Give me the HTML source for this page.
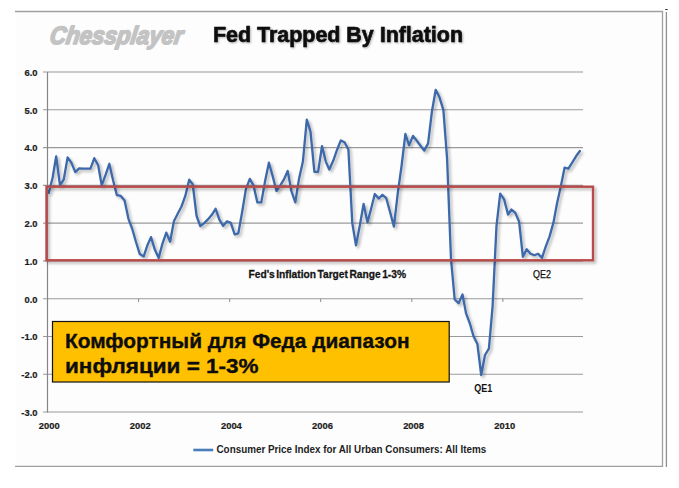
<!DOCTYPE html>
<html><head><meta charset="utf-8">
<style>
html,body{margin:0;padding:0;background:#fff;}
body{width:679px;height:488px;overflow:hidden;position:relative;}
svg{position:absolute;left:0;top:0;}
text{font-family:"Liberation Sans",sans-serif;}
.ax{font-size:9.4px;font-weight:bold;fill:#1a1a1a;stroke:#1a1a1a;stroke-width:0.2px;}
</style></head><body>
<svg width="679" height="488" viewBox="0 0 679 488">
<defs>
<filter id="sh" x="-5%" y="-5%" width="110%" height="120%">
<feGaussianBlur in="SourceAlpha" stdDeviation="1.4"/>
<feOffset dx="1.8" dy="2.2" result="b"/>
<feComponentTransfer><feFuncA type="linear" slope="0.3"/></feComponentTransfer>
<feMerge><feMergeNode/><feMergeNode in="SourceGraphic"/></feMerge>
</filter>
<filter id="tsh" x="-5%" y="-20%" width="110%" height="140%">
<feGaussianBlur in="SourceAlpha" stdDeviation="0.8"/>
<feOffset dx="1" dy="1.2"/>
<feComponentTransfer><feFuncA type="linear" slope="0.3"/></feComponentTransfer>
<feMerge><feMergeNode/><feMergeNode in="SourceGraphic"/></feMerge>
</filter>
</defs>
<rect x="16" y="12" width="646" height="454" fill="#fdfdfd"/>
<!-- frame -->
<line x1="15" y1="11.5" x2="663" y2="11.5" stroke="#a0a0a0" stroke-width="1.3"/>
<line x1="15" y1="466.3" x2="663" y2="466.3" stroke="#a0a0a0" stroke-width="1.3"/>
<line x1="662.5" y1="11" x2="662.5" y2="467" stroke="#a0a0a0" stroke-width="1.3"/>
<line x1="666.4" y1="12" x2="666.4" y2="467" stroke="#909090" stroke-width="1.3"/>
<rect x="665.2" y="9" width="2.5" height="1" fill="#333"/>
<!-- chessplayer -->
<g transform="translate(49,43.6) skewX(-8) scale(1,1.0)"><text x="0" y="0" font-size="25" font-weight="bold" font-style="italic" fill="#c3c3c3" stroke="#c3c3c3" stroke-width="1.7" stroke-linejoin="round" textLength="133" lengthAdjust="spacingAndGlyphs">Chessplayer</text></g>
<text x="213" y="42.2" font-size="21.2" font-weight="bold" fill="#0a0a0a" stroke="#0a0a0a" stroke-width="0.6" filter="url(#tsh)" textLength="250" lengthAdjust="spacingAndGlyphs">Fed Trapped By Inflation</text>
<line x1="43" y1="72.0" x2="583" y2="72.0" stroke="#9a9a9a" stroke-width="1.1"/>
<line x1="43" y1="109.8" x2="583" y2="109.8" stroke="#9a9a9a" stroke-width="1.1"/>
<line x1="43" y1="147.6" x2="583" y2="147.6" stroke="#9a9a9a" stroke-width="1.1"/>
<line x1="43" y1="185.4" x2="583" y2="185.4" stroke="#9a9a9a" stroke-width="1.1"/>
<line x1="43" y1="223.1" x2="583" y2="223.1" stroke="#9a9a9a" stroke-width="1.1"/>
<line x1="43" y1="260.9" x2="583" y2="260.9" stroke="#9a9a9a" stroke-width="1.1"/>
<line x1="43" y1="298.7" x2="583" y2="298.7" stroke="#9a9a9a" stroke-width="1.1"/>
<line x1="43" y1="336.5" x2="583" y2="336.5" stroke="#9a9a9a" stroke-width="1.1"/>
<line x1="43" y1="374.3" x2="583" y2="374.3" stroke="#9a9a9a" stroke-width="1.1"/>
<line x1="43" y1="412.0" x2="583" y2="412.0" stroke="#9a9a9a" stroke-width="1.1"/>

<line x1="47.5" y1="72" x2="47.5" y2="412.5" stroke="#868686" stroke-width="1.2"/>
<line x1="138.6" y1="298.7" x2="138.6" y2="302" stroke="#8c8c8c" stroke-width="1"/>
<line x1="229.7" y1="298.7" x2="229.7" y2="302" stroke="#8c8c8c" stroke-width="1"/>
<line x1="320.7" y1="298.7" x2="320.7" y2="302" stroke="#8c8c8c" stroke-width="1"/>
<line x1="411.8" y1="298.7" x2="411.8" y2="302" stroke="#8c8c8c" stroke-width="1"/>
<line x1="502.9" y1="298.7" x2="502.9" y2="302" stroke="#8c8c8c" stroke-width="1"/>

<text x="37.5" y="75.8" text-anchor="end" class="ax">6.0</text>
<text x="37.5" y="113.6" text-anchor="end" class="ax">5.0</text>
<text x="37.5" y="151.4" text-anchor="end" class="ax">4.0</text>
<text x="37.5" y="189.2" text-anchor="end" class="ax">3.0</text>
<text x="37.5" y="226.9" text-anchor="end" class="ax">2.0</text>
<text x="37.5" y="264.7" text-anchor="end" class="ax">1.0</text>
<text x="37.5" y="302.5" text-anchor="end" class="ax">0.0</text>
<text x="37.5" y="340.3" text-anchor="end" class="ax">-1.0</text>
<text x="37.5" y="378.1" text-anchor="end" class="ax">-2.0</text>
<text x="37.5" y="415.8" text-anchor="end" class="ax">-3.0</text>

<text x="49.2" y="429" text-anchor="middle" class="ax">2000</text>
<text x="140.3" y="429" text-anchor="middle" class="ax">2002</text>
<text x="231.4" y="429" text-anchor="middle" class="ax">2004</text>
<text x="322.5" y="429" text-anchor="middle" class="ax">2006</text>
<text x="413.6" y="429" text-anchor="middle" class="ax">2008</text>
<text x="504.7" y="429" text-anchor="middle" class="ax">2010</text>

<!-- line -->
<polyline points="48.7,192.9 52.6,177.8 56.2,156.3 60.0,185.4 63.8,179.3 67.6,157.4 71.4,162.7 75.3,172.1 79.1,168.4 82.9,168.7 86.7,168.7 90.5,168.7 94.3,158.2 98.2,165.3 101.7,185.4 105.5,175.2 109.3,163.8 113.2,180.8 116.9,195.2 120.8,195.9 124.6,200.5 128.4,218.6 132.2,228.8 136.0,242.0 139.8,254.1 143.7,256.4 147.2,245.8 151.0,237.1 154.8,249.6 158.7,257.9 162.4,243.9 166.3,232.6 170.1,241.7 173.9,221.3 177.7,213.7 181.5,206.5 185.3,195.9 189.2,179.7 192.7,184.2 196.6,216.0 200.3,226.2 204.2,223.1 207.9,219.4 211.8,214.8 215.6,208.8 219.4,219.7 223.2,225.8 227.0,221.3 230.8,222.8 234.7,234.5 238.3,233.3 242.2,211.8 245.9,189.1 249.8,178.9 253.5,185.4 257.4,202.4 261.3,202.4 265.0,181.6 268.9,162.7 272.6,175.9 276.5,191.0 280.3,185.4 283.8,179.7 287.7,171.0 291.4,191.0 295.3,202.4 299.0,178.9 302.9,161.6 306.8,119.6 310.5,131.7 314.4,171.8 318.1,171.8 322.0,146.1 325.8,161.6 329.3,169.5 333.2,160.8 336.9,150.2 340.8,140.4 344.5,142.3 348.4,149.5 352.3,223.1 356.0,245.4 359.9,225.0 363.6,203.9 367.5,222.4 371.3,208.0 374.8,194.0 378.7,198.6 382.4,194.8 386.3,198.2 390.0,211.8 393.9,226.5 397.8,192.9 401.5,166.5 405.4,134.0 409.1,145.3 413.0,135.9 416.8,140.8 420.5,145.7 424.3,150.6 428.1,143.4 431.9,111.7 435.7,89.8 439.5,97.3 443.4,110.2 447.1,158.9 451.0,259.0 454.7,299.5 458.6,303.2 462.5,294.5 466.0,313.1 469.8,323.3 473.6,336.5 477.4,344.0 481.2,375.0 485.0,355.0 488.9,348.6 492.6,306.3 496.5,225.8 500.2,193.7 504.1,199.3 508.0,214.5 511.5,209.5 515.3,212.9 519.1,221.6 522.9,256.8 526.7,249.2 530.5,253.7 534.4,255.3 538.1,253.7 542.0,257.9 545.7,246.6 549.6,236.4 553.5,222.4 557.0,203.5 560.8,186.5 564.6,167.6 568.4,168.7 572.2,162.7 576.0,156.3 579.9,151.0" fill="none" stroke="#3c68aa" stroke-width="2.3" stroke-linejoin="round" stroke-linecap="round" filter="url(#sh)"/>
<!-- red box -->
<rect x="46.5" y="186.7" width="546.5" height="73.6" fill="none" stroke="#b84c4a" stroke-width="2.4" filter="url(#sh)"/>
<!-- labels -->
<text x="248.5" y="278" font-size="11.4" font-weight="bold" fill="#141414" stroke="#141414" stroke-width="0.3" word-spacing="-1.5" textLength="157.5" lengthAdjust="spacingAndGlyphs">Fed's Inflation Target Range 1-3%</text>
<text x="533" y="278.3" font-size="10" fill="#111" stroke="#111" stroke-width="0.25" textLength="18" lengthAdjust="spacingAndGlyphs">QE2</text>
<text x="474.3" y="392.2" font-size="10" font-weight="bold" fill="#111" textLength="18" lengthAdjust="spacingAndGlyphs">QE1</text>
<!-- gold box -->
<rect x="52.5" y="321.5" width="396.7" height="60.5" fill="#ffc000" stroke="#111" stroke-width="1.2"/>
<text x="65" y="347.7" font-size="20" font-weight="bold" fill="#0d0d0d" stroke="#0d0d0d" stroke-width="0.35" textLength="344.5" lengthAdjust="spacingAndGlyphs">Комфортный для Феда диапазон</text>
<text x="65" y="372.6" font-size="20" font-weight="bold" fill="#0d0d0d" stroke="#0d0d0d" stroke-width="0.35" textLength="193.5" lengthAdjust="spacingAndGlyphs">инфляции = 1-3%</text>
<!-- legend -->
<line x1="193.3" y1="450" x2="213.2" y2="450" stroke="#4a7ebb" stroke-width="2.6"/>
<text x="216.5" y="452.7" font-size="10.8" font-weight="bold" fill="#1e1e1e" textLength="269.7" lengthAdjust="spacingAndGlyphs">Consumer Price Index for All Urban Consumers: All Items</text>
</svg>
</body></html>
